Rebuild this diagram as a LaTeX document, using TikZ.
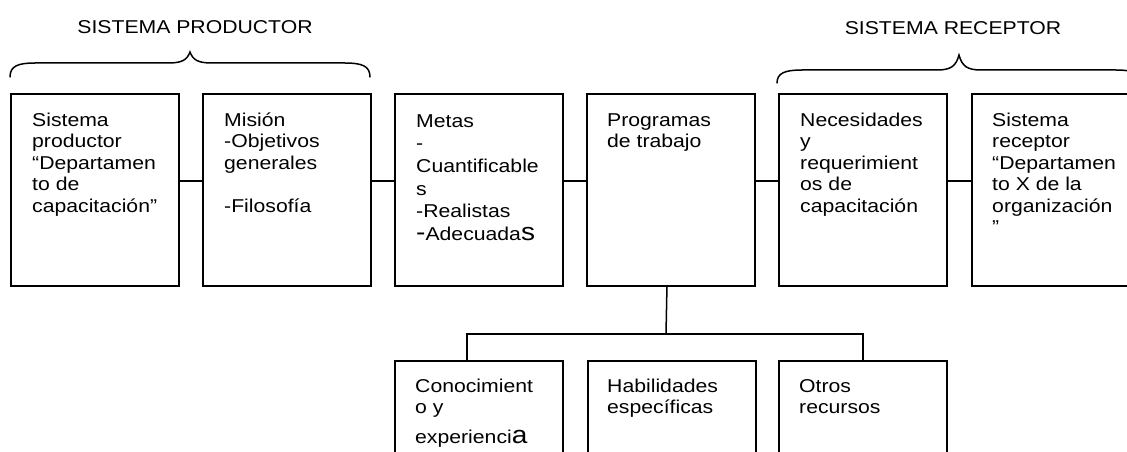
\documentclass[tikz,border=0pt]{standalone}
\usepackage{fontspec}
\setmainfont{Liberation Sans}
\newfontfamily\dfont[FakeStretch=1.14]{Liberation Sans}
\newcommand{\bigch}[1]{{\fontsize{24.6}{21.5}\selectfont #1}}
\begin{document}
\begin{tikzpicture}[x=1pt,y=-1pt,
  box/.style={draw, line width=1.9pt, minimum width=168pt, minimum height=192pt, inner sep=0pt, anchor=north west},
  txt/.style={anchor=north west, inner sep=0pt, align=left, font=\dfont\fontsize{18.6}{21.5}\selectfont},
  txtb/.style={txt, font=\dfont\fontsize{18.6}{22.6}\selectfont},
  title/.style={inner sep=0pt, font=\dfont\fontsize{18.6}{21.5}\selectfont},
  conn/.style={line width=1.5pt},
  brace/.style={line width=1.5pt, line cap=round}]
\clip (0,0) rectangle (1127,452);
\fill[white] (0,0) rectangle (1127,452);

% top boxes
\node[box] (b1) at (10,93) {};
\node[box] (b2) at (202,93) {};
\node[box] (b3) at (394,93) {};
\node[box] (b4) at (586,93) {};
\node[box] (b5) at (778,93) {};
\node[box] (b6) at (971,93) {};
% bottom boxes
\node[box] (bb1) at (394,360) {};
\node[box] (bb2) at (587,360) {};
\node[box] (bb3) at (778,360) {};

% texts (first baseline = top + 15)
\node[txt] (t1) at (32,111) {\rule{0pt}{15pt}Sistema\\productor\\“Departamen\\to de\\capacitación”};
\node[txt] (t2) at (224,111) {\rule{0pt}{15pt}Misión\\-Objetivos\\generales\\[21.5pt]-Filosofía};
\node[txtb] (t3) at (416,112) {\rule{0pt}{15pt}Metas\\-\\Cuantificable\\s\\-Realistas\\[0.5pt]\bigch{-}Adecuada\bigch{s}};
\node[txt] (t4) at (607,111) {\rule{0pt}{15pt}Programas\\de trabajo};
\node[txt] (t5) at (800,111) {\rule{0pt}{15pt}Necesidades\\y\\requerimient\\os de\\capacitación};
\node[txt] (t6) at (992,111) {\rule{0pt}{15pt}Sistema\\receptor\\“Departamen\\to X de la\\organización\\”};
\node[txt] (bt1) at (415,377) {\rule{0pt}{15pt}Conocimient\\o y\\[8pt]experienci\bigch{a}};
\node[txt] (bt2) at (607,377) {\rule{0pt}{15pt}Habilidades\\específicas};
\node[txt] (bt3) at (799,377) {\rule{0pt}{15pt}Otros\\recursos};

% titles
\node[title] (tp) at (195,27) {SISTEMA PRODUCTOR};
\node[title] (tr) at (953,28) {SISTEMA RECEPTOR};

% braces
\draw[brace] (10,77) .. controls (10,66) and (18,63) .. (35,63) -- (168,63)
  .. controls (182,63) and (187,60) .. (190,52)
  .. controls (193,60) and (198,63) .. (212,63) -- (345,63)
  .. controls (362,63) and (370,66) .. (370,77);
\draw[brace] (777,83) .. controls (777,73) and (785,70) .. (802,70) -- (937,70)
  .. controls (951,70) and (956,66) .. (959,55)
  .. controls (962,66) and (967,70) .. (981,70) -- (1116,70)
  .. controls (1133,70) and (1141,73) .. (1141,83);

% connectors
\draw[conn] ([yshift=9pt]b1.east) -- ([yshift=9pt]b2.west);
\draw[conn] ([yshift=9pt]b2.east) -- ([yshift=9pt]b3.west);
\draw[conn] ([yshift=9pt]b3.east) -- ([yshift=9pt]b4.west);
\draw[conn] ([yshift=9pt]b4.east) -- ([yshift=9pt]b5.west);
\draw[conn] ([yshift=9pt]b5.east) -- ([yshift=9pt]b6.west);
\coordinate (j) at (666,334);
\draw[conn] ([xshift=-4pt]b4.south) -- (j);
\draw[conn] ([xshift=-12pt]bb1.north) |- (j) -| (bb3.north);
\end{tikzpicture}
\end{document}
